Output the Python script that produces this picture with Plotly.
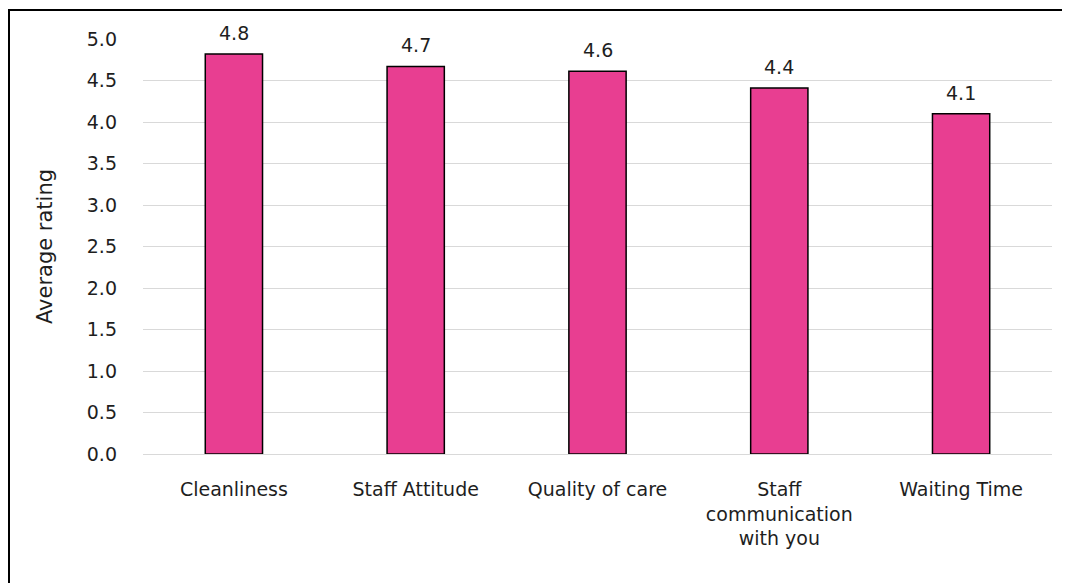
import plotly.graph_objects as go

categories = ["Cleanliness", "Staff Attitude", "Quality of care", "Staff<br>communication<br>with you", "Waiting Time"]
values = [4.82, 4.67, 4.61, 4.41, 4.10]
tick_vals = [0, 0.5, 1, 1.5, 2, 2.5, 3, 3.5, 4, 4.5, 5]
tick_text = ["0.0", "0.5", "1.0", "1.5", "2.0", "2.5", "3.0", "3.5", "4.0", "4.5", "5.0"]

FONT = "DejaVu Sans"
TXT = "#1e1e1e"
# page has an 8px body margin, so figure coords are page coords minus 8
W, H = 1062, 575
L, R, T, B = 135, 18, 31, 129
pw, ph = W - L - R, H - T - B

fig = go.Figure(go.Bar(
    x=categories, y=values,
    marker=dict(color="#E83E91", line=dict(color="black", width=1.5)),
    width=0.315,
    hoverinfo="x+y",
))

for c, v in zip(categories, values):
    fig.add_annotation(x=c, y=v, text=f"{v:.1f}", showarrow=False,
                       yanchor="bottom", yshift=8,
                       font=dict(family=FONT, size=19, color=TXT))

def px_x(p):
    return (p - L) / pw

def px_y(p):
    return (H - B - p) / ph

fig.add_shape(type="rect", xref="paper", yref="paper",
              x0=px_x(1), x1=px_x(1090), y0=px_y(2), y1=px_y(620),
              line=dict(color="black", width=2), fillcolor="rgba(0,0,0,0)")

fig.update_layout(
    width=W, height=H,
    margin=dict(l=L, r=R, t=T, b=B),
    plot_bgcolor="white", paper_bgcolor="white",
    showlegend=False,
    font=dict(family=FONT, size=19, color=TXT),
    xaxis=dict(showgrid=False, showline=False, ticks="", tickfont=dict(size=19, color=TXT),
               ticklabelstandoff=22),
    yaxis=dict(range=[0, 5], tickvals=tick_vals, ticktext=tick_text,
               showgrid=True, gridcolor="#D9D9D9", gridwidth=1.2,
               zeroline=True, zerolinecolor="#D9D9D9", zerolinewidth=1.2,
               showline=False, ticks="", tickfont=dict(size=19, color=TXT),
               ticklabelstandoff=25,
               title=dict(text="Average rating", font=dict(size=21, color=TXT), standoff=28)),
)

fig.write_html("out.html")
